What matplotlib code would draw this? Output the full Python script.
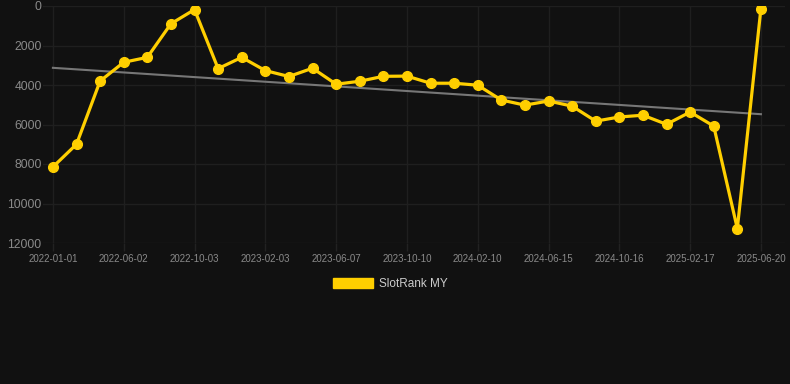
import numpy as np
import matplotlib
matplotlib.use("Agg")
import matplotlib.pyplot as plt
from matplotlib.patches import Patch

# rank values (lower is better, axis is inverted)
rank = [8150, 7000, 3800, 2850, 2600, 900, 180, 3170, 2600, 3270,
        3570, 3150, 3960, 3810, 3560, 3550, 3910, 3910, 4010, 4760,
        5020, 4810, 5070, 5830, 5620, 5530, 5990, 5370, 6080, 11270,
        130]
# tick labels shown on every third point
tick_labels = ["2022-01-01", "2022-06-02", "2022-10-03", "2023-02-03",
               "2023-06-07", "2023-10-10", "2024-02-10", "2024-06-15",
               "2024-10-16", "2025-02-17", "2025-06-20"]
y_ticks = [0, 2000, 4000, 6000, 8000, 10000, 12000]

bg = "#111111"
gold = "#ffcf00"

plt.rcParams['font.family'] = ['Liberation Sans', 'DejaVu Sans']

fig = plt.figure(figsize=(7.9, 3.84), dpi=100, facecolor=bg)
ax = fig.add_axes([43 / 790, 141 / 384, 742 / 790, 237 / 384])
ax.set_facecolor(bg)

x = np.arange(len(rank))
y = np.array(rank)

# trend line (linear fit)
k, b = np.polyfit(x, y, 1)
ax.plot(x, k * x + b, color="#777777", lw=1.5, zorder=2)

ax.plot(x, y, color=gold, lw=2.3, marker="o", ms=7, zorder=3)

ax.set_xlim(-0.42, 31.02)
ax.set_ylim(12000, 0)
ax.set_yticks(y_ticks)
ax.set_xticks(x[::3])
ax.set_xticklabels(tick_labels)

ax.grid(True, color="#1f1f1f", lw=1)
ax.set_axisbelow(True)
for s in ax.spines.values():
    s.set_visible(False)

ax.tick_params(axis="y", length=0, pad=1, labelsize=8.7, labelcolor="#8a8a8a")
ax.tick_params(axis="x", length=6, width=1, color="#222222", pad=2,
               labelsize=7, labelcolor="#8a8a8a")

handle = Patch(facecolor=gold, edgecolor=gold)
leg = fig.legend([handle], ["SlotRank MY"], loc="center",
                 bbox_to_anchor=(390 / 790, 1 - 284 / 384), frameon=False,
                 fontsize=8.5, handlelength=3.4, handleheight=1.0,
                 handletextpad=0.5, labelcolor="#cccccc")

fig.savefig("out.png", dpi=100, facecolor=bg)
